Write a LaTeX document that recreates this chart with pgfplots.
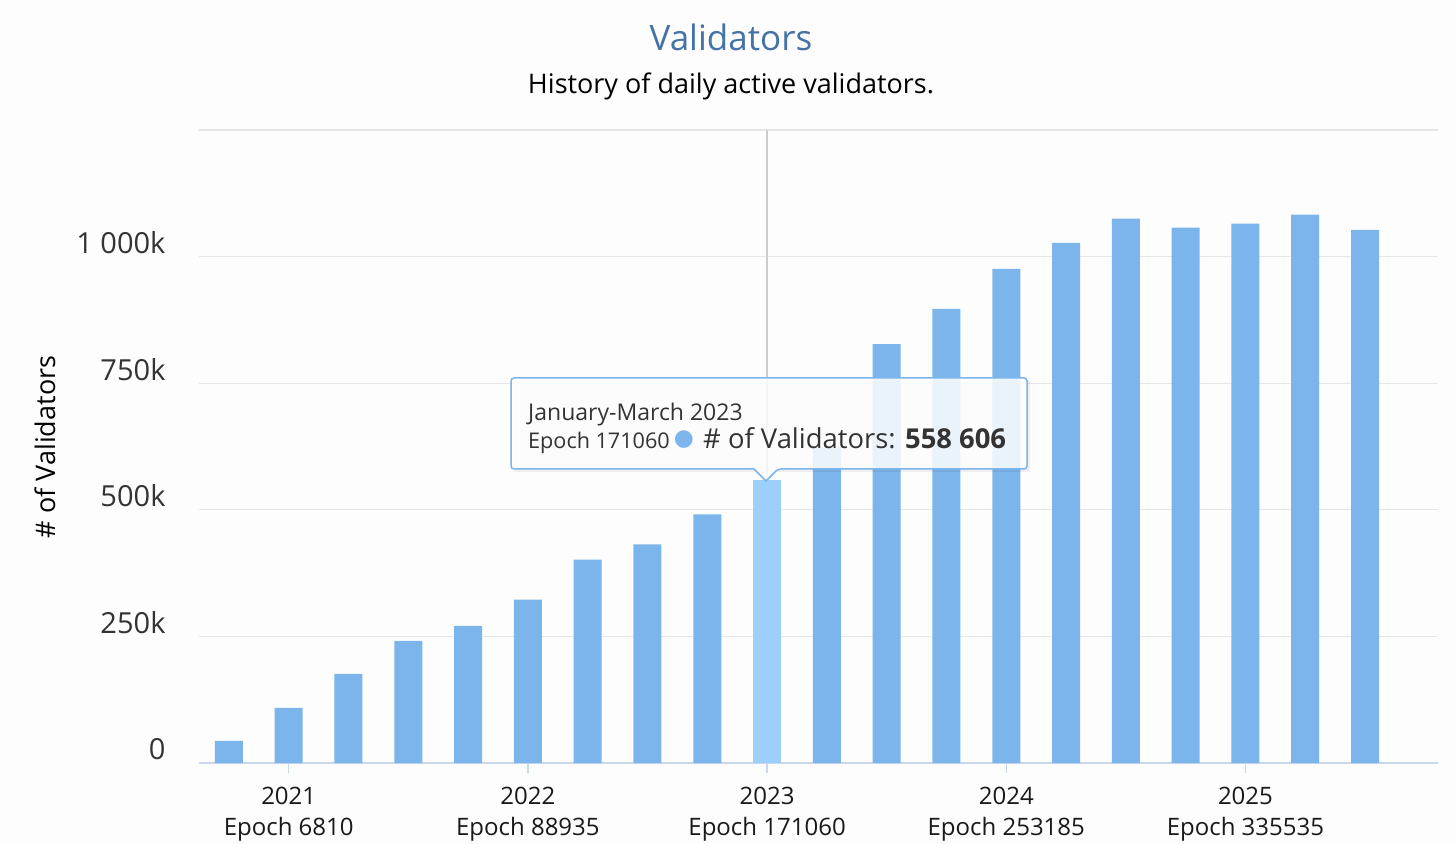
\documentclass[border=0pt]{standalone}
\usepackage{pgfplots}
\pgfplotsset{compat=1.18}
\usepackage{fontspec}
\setmainfont{Open Sans}
\newfontfamily\dejavu{DejaVu Sans}
\definecolor{bar}{HTML}{7CB5EC}
\definecolor{barhi}{HTML}{9DCFFC}
\definecolor{titleblue}{HTML}{4572A7}
\definecolor{axisline}{HTML}{CCD6EB}
\definecolor{gridc}{HTML}{E6E6E6}
\definecolor{txt}{HTML}{333333}
\definecolor{bg}{HTML}{FDFDFD}
\begin{document}
\begin{tikzpicture}
\useasboundingbox (0,0) rectangle (1455pt,843pt);
\fill[bg] (0,0) rectangle (1455pt,843pt);
\begin{axis}[
  at={(199pt,80pt)}, anchor=south west,
  width=1239pt, height=633pt, scale only axis,
  xmin=-0.5, xmax=20.22, ymin=0, ymax=1250000,
  axis x line=bottom, axis y line=left,
  x axis line style={-, draw=axisline, line width=1.5pt},
  y axis line style={draw=none},
  xtick={1,5,9,13,17},
  xticklabels={{2021\\Epoch 6810},{2022\\Epoch 88935},{2023\\Epoch 171060},{2024\\Epoch 253185},{2025\\Epoch 335535}},
  xticklabel style={align=center, font=\fontsize{24}{31}\selectfont, text=black!90, yshift=-11pt},
  x tick style={draw=axisline, line width=1.5pt},
  major tick length=10pt, tick align=outside,
  ytick={0,250000,500000,750000,1000000,1250000},
  yticklabels={0,250k,500k,750k,1 000k,{}},
  y tick style={draw=none},
  scaled y ticks=false,
  ymajorgrids, grid style={draw=gridc, line width=1.2pt},
  yticklabel style={font=\fontsize{29}{29}\selectfont, text=txt, yshift=14pt, xshift=-20pt},
  clip=false,
]
\draw[draw=black!20, line width=1.5pt] (axis cs:9,0) -- (axis cs:9,1250000);
\addplot[ybar, bar width=28pt, bar shift=0pt, fill=bar, draw=none] coordinates {
(0,43500) (1,109000) (2,176000) (3,241000) (4,271000) (5,322600) (6,401800) (7,431500) (8,490900)
(10,623500) (11,827000) (12,896700) (13,975800) (14,1027000) (15,1075000) (16,1057000) (17,1065000) (18,1083000) (19,1053000)
};
\addplot[ybar, bar width=28pt, bar shift=0pt, fill=barhi, draw=none] coordinates {(9,558606)};
\end{axis}
% titles
\node[text=titleblue, font=\fontsize{35}{35}\selectfont] at (731pt,806pt) {Validators};
\node[text=black, font=\fontsize{27}{27}\selectfont] at (731pt,757pt) {History of daily active validators.};
\node[text=black, rotate=90, font=\fontsize{27}{27}\selectfont] at (45pt,396pt) {\# of Validators};
% tooltip
\fill[black, opacity=0.06] (514pt,371pt) -- (1030pt,371pt) -- (1030pt,462pt) -- (514pt,462pt) -- cycle;
\filldraw[fill=white, fill opacity=0.85, draw=bar, line width=1.5pt, rounded corners=3pt]
  (511pt,465pt) -- (1027pt,465pt) -- (1027pt,374pt) -- (778pt,374pt) [sharp corners] -- (766pt,362pt) -- (754pt,374pt) [rounded corners=3pt] -- (511pt,374pt) -- cycle;
\node[anchor=base west, text=txt, font=\fontsize{23}{23}\selectfont, inner sep=0pt] at (528pt,422pt) {January-March 2023};
\node[anchor=base west, text=txt, font=\fontsize{21.6}{21.6}\selectfont, inner sep=0pt] at (528pt,394pt) {Epoch 171060};
\node[text=bar, font=\dejavu\fontsize{23}{23}\selectfont, inner sep=0pt] at (684pt,403pt) {●};
\node[anchor=base west, text=txt, font=\fontsize{27.4}{27.4}\selectfont, inner sep=0pt] at (703pt,394pt) {\# of Validators: \textbf{558 606}};
\end{tikzpicture}
\end{document}
